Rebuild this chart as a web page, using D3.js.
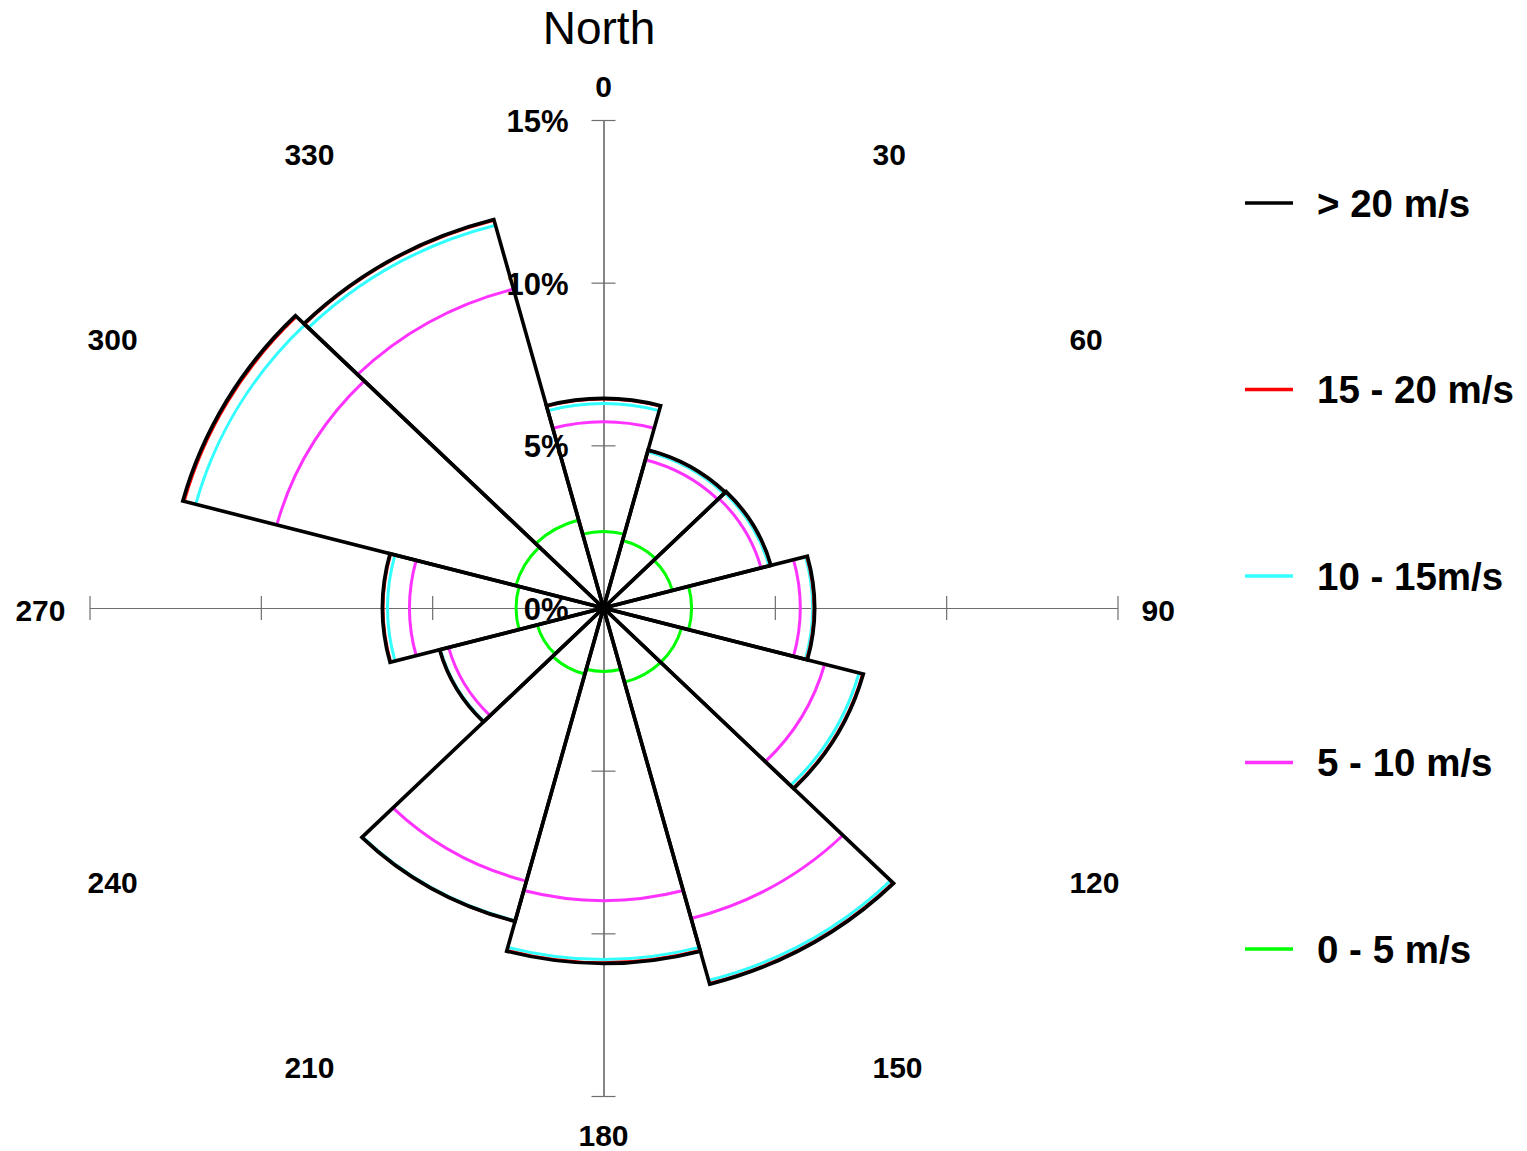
<!DOCTYPE html>
<html>
<head>
<meta charset="utf-8">
<script src="https://cdn.jsdelivr.net/npm/d3@7"></script>
<style>
    body { margin: 0; background: #fff; }
    text { font-family: "Liberation Sans", Arial, sans-serif; }
</style>
</head>
<body>
<script>
// data

const directions = [0, 30, 60, 90, 120, 150, 180, 210, 240, 270, 300, 330];
const freq0to5   = [2.35, 2.15, 2.08, 2.57, 2.36, 2.36, 1.95, 2.10, 2.00, 2.55, 2.65, 2.80];
const freq5to10  = [3.37, 2.57, 2.68, 3.17, 4.32, 7.52, 7.04, 6.59, 2.68, 3.11, 7.22, 7.35];
const freq10to15 = [0.56, 0.25, 0.24, 0.36, 1.04, 1.97, 1.81, 1.26, 0.25, 0.64, 2.45, 2.03];
const freq15to20 = [0.14, 0.05, 0.05, 0.04, 0.11, 0.10, 0.10, 0.02, 0.02, 0.13, 0.35, 0.16];
const freqOver20 = [0.02, 0.01, 0.01, 0.02, 0.02, 0.02, 0.02, 0.00, 0.00, 0.02, 0.04, 0.02];

const speedBins = ["0 - 5 m/s", "5 - 10 m/s", "10 - 15m/s", "15 - 20 m/s", "> 20 m/s"];
const radialTicks = [0, 5, 10, 15];
const radialTickLabels = ["0%", "5%", "10%", "15%"];
const title = "North";

function drawWindRose() {

    const binColors = ["#00ff00", "#ff33ff", "#33ffff", "#ff0000", "#000000"];
    const bins = [freq0to5, freq5to10, freq10to15, freq15to20, freqOver20];

    // cumulative radius of each band per direction
    const cumulative = bins.map((b, i) =>
        directions.map((d, j) => d3.sum(bins.slice(0, i + 1), s => s[j])));
    const totals = cumulative[cumulative.length - 1];

    // dimensions

    const dms = {
        width: 1527,
        height: 1151,
        cx: 603.5,
        cy: 608,
        rx: 514,
        ry: 488
    };

    const svg = d3.select("body")
                    .append("svg")
                        .attr("width", dms.width)
                        .attr("height", dms.height);

    // scales

    const rScaleX = d3.scaleLinear().domain([0, 15]).range([0, dms.rx]);
    const rScaleY = d3.scaleLinear().domain([0, 15]).range([0, dms.ry]);
    const rad = deg => deg * Math.PI / 180;
    const pt = (v, deg) => [
        dms.cx + rScaleX(v) * Math.sin(rad(deg)),
        dms.cy - rScaleY(v) * Math.cos(rad(deg))
    ];

    // axes

    const yAxisScale = d3.scaleLinear().domain([-15, 15]).range([dms.cy + dms.ry, dms.cy - dms.ry]);
    const xAxisScale = d3.scaleLinear().domain([-15, 15]).range([dms.cx - dms.rx, dms.cx + dms.rx]);
    const axisTicks = [-15, -10, -5, 5, 10, 15];

    const axes = svg.append("g").attr("class", "axes");
    [d3.axisLeft(yAxisScale), d3.axisRight(yAxisScale)].forEach(ax => {
        axes.append("g")
            .attr("transform", `translate(${dms.cx},0)`)
            .call(ax.tickValues(axisTicks).tickSize(12).tickSizeOuter(0).tickFormat(""));
    });
    [d3.axisTop(xAxisScale), d3.axisBottom(xAxisScale)].forEach(ax => {
        axes.append("g")
            .attr("transform", `translate(0,${dms.cy})`)
            .call(ax.tickValues(axisTicks).tickSize(12).tickSizeOuter(0).tickFormat(""));
    });
    axes.selectAll("path, line")
        .attr("stroke", "#6e6e6e")
        .attr("stroke-width", 1.2);

    // radial labels

    svg.append("g")
        .selectAll("text")
        .data(radialTicks)
        .join("text")
            .attr("x", dms.cx - 35)
            .attr("y", d => dms.cy - rScaleY(d) + 1)
            .attr("dy", "0.36em")
            .attr("text-anchor", "end")
            .attr("font-size", 31)
            .attr("font-weight", "bold")
            .text((d, i) => radialTickLabels[i]);

    // band arcs (inner bands first, outline last)

    const arcPath = (v, d) => {
        const p0 = pt(v, d - 15);
        const p1 = pt(v, d + 15);
        return `M${p0}A${rScaleX(v)},${rScaleY(v)} 0 0 1 ${p1}`;
    };

    cumulative.slice(0, 4).forEach((cum, i) => {
        svg.append("g")
            .selectAll("path")
            .data(directions)
            .join("path")
                .attr("d", (d, j) => arcPath(cum[j], d))
                .attr("fill", "none")
                .attr("stroke", binColors[i])
                .attr("stroke-width", 3);
    });

    svg.append("g")
        .selectAll("path")
        .data(directions)
        .join("path")
            .attr("d", (d, j) => `M${dms.cx},${dms.cy}L${arcPath(totals[j], d).slice(1)}Z`)
            .attr("fill", "none")
            .attr("stroke", "#000")
            .attr("stroke-width", 3.6)
            .attr("stroke-linejoin", "miter");

    // direction labels

    svg.append("g")
        .selectAll("text")
        .data(directions)
        .join("text")
            .attr("x", d => dms.cx + (dms.rx + 24) * Math.sin(rad(d)))
            .attr("y", d => {
                const c = Math.cos(rad(d));
                const shift = Math.abs(c) < 0.01 ? 0 : Math.sign(c) * 18.5;
                return 610.5 - (dms.ry + 18) * c - shift;
            })
            .attr("dy", "0.36em")
            .attr("text-anchor", d => {
                const s = Math.sin(rad(d));
                return s > 0.01 ? "start" : s < -0.01 ? "end" : "middle";
            })
            .attr("font-size", 30)
            .attr("font-weight", "bold")
            .text(d => d);

    svg.append("text")
        .attr("x", 599)
        .attr("y", 44)
        .attr("text-anchor", "middle")
        .attr("font-size", 46)
        .text(title);

    // legend

    const legend = svg.append("g")
        .selectAll("g")
        .data(speedBins.map((s, i) => ({ label: s, color: binColors[i] })).reverse())
        .join("g")
            .attr("transform", (d, i) => `translate(1245,${203 + i * 186.5})`);

    legend.append("line")
        .attr("x1", 0)
        .attr("x2", 48)
        .attr("stroke", d => d.color)
        .attr("stroke-width", 3.5);

    legend.append("text")
        .attr("x", 72)
        .attr("dy", "0.36em")
        .attr("font-size", 38.5)
        .attr("font-weight", "bold")
        .text(d => d.label);
}

drawWindRose();
</script>
</body>
</html>
